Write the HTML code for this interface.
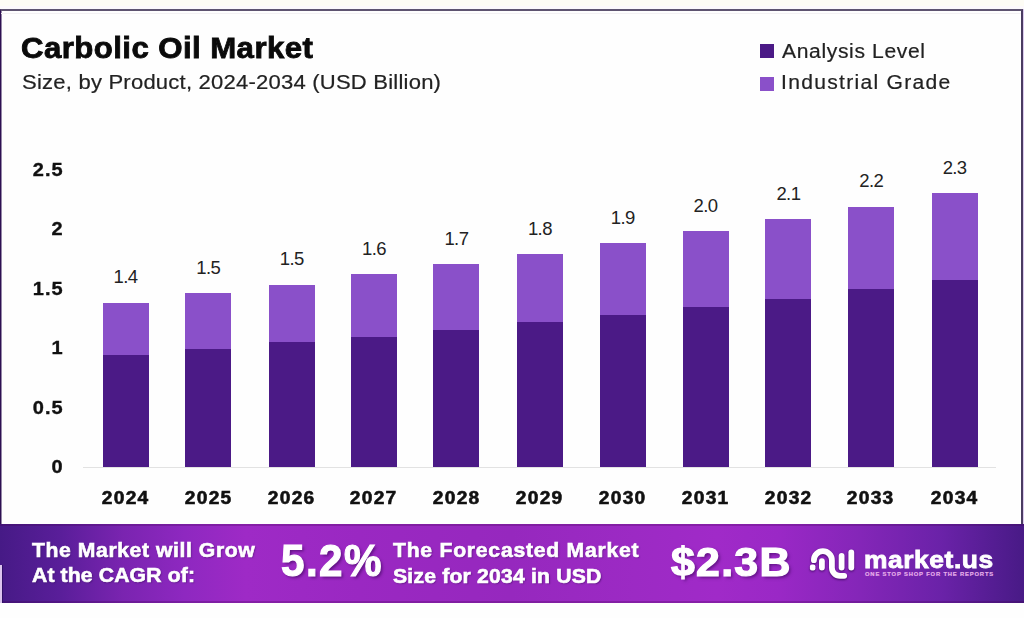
<!DOCTYPE html>
<html><head><meta charset="utf-8">
<style>
html,body{margin:0;padding:0;}
body{width:1024px;height:618px;position:relative;overflow:hidden;background:#fefefe;font-family:"Liberation Sans",sans-serif;}
#top{position:absolute;left:0;top:0;width:1024px;height:9px;background:linear-gradient(180deg,#fdfcf5 0,#fdfcf5 6px,#fcf9fc 6px,#fcf9fc 9px);}
#frame{position:absolute;left:0;top:9px;width:1023px;height:515px;border-top:2px solid #5e5470;border-left:1px solid #2e1052;border-right:2px solid #4a3c62;box-sizing:border-box;background:#fefefe;box-shadow:inset 1px 0 0 rgba(46,16,82,0.5);}
#frame:after{content:"";position:absolute;left:0;top:2px;width:100%;height:1px;background:#f3f1f3;}
#rcol{position:absolute;left:1023px;top:9px;width:1px;height:515px;background:#dccbee;}
.t{position:absolute;white-space:nowrap;transform-origin:0 0;}
#title{left:21px;top:33.6px;font-size:29px;line-height:29px;letter-spacing:0.4px;transform:scaleX(1.075);-webkit-text-stroke:0.8px #0a0a0a;font-weight:bold;color:#0a0a0a;}
#sub{left:22px;top:72px;font-size:20.5px;line-height:20.5px;letter-spacing:0.2px;transform:scaleX(1.075);-webkit-text-stroke:0.2px #222;color:#222;}
.lg{position:absolute;width:14px;height:14px;}
.lt{font-size:19.5px;line-height:19.5px;color:#222;transform:scaleX(1.08);-webkit-text-stroke:0.2px #222;}
.bl{position:absolute;background:#8a50c9;}
.bd{position:absolute;background:#4b1a86;}
.vl{position:absolute;width:80px;text-align:center;font-size:18.5px;line-height:20px;letter-spacing:-0.6px;color:#222;}
.yr{position:absolute;width:80px;text-align:center;font-size:17.6px;line-height:20px;font-weight:bold;color:#111;letter-spacing:1.2px;text-indent:1.2px;transform:scaleX(1.09);transform-origin:50% 0;-webkit-text-stroke:0.55px #111;}
.yl{position:absolute;left:0;width:63.5px;text-align:right;font-size:18.5px;line-height:20px;font-weight:bold;color:#111;letter-spacing:0.93px;transform:scaleX(1.08);transform-origin:62.5px 0;-webkit-text-stroke:0.35px #111;}
#base{position:absolute;left:83px;top:467px;width:913px;height:1px;background:#e2e2e2;}
#band{position:absolute;left:0;top:524px;width:1024px;height:79px;background:linear-gradient(90deg,#461a86 0%,#5a1e9a 6%,#7a24b0 12%,#8e28c0 18%,#9e2ac6 24%,#9a28c2 35%,#9628be 50%,#9c2ac4 62%,#a02ac8 70%,#9a28c6 76%,#8426b8 84%,#6a22a8 92%,#481a86 100%);}
#band:before{content:"";position:absolute;left:0;top:0;width:100%;height:2px;background:rgba(60,0,70,0.25);}
#band:after{content:"";position:absolute;left:0;bottom:0;width:100%;height:2px;background:rgba(60,0,70,0.25);}
.bt{color:#fff;font-weight:bold;font-size:20px;line-height:20px;transform:scaleX(1.06);-webkit-text-stroke:0.6px #fff;}
.sh{text-shadow:1px 1px 1.5px rgba(40,0,70,0.45);}
.big{text-shadow:2px 2px 3px rgba(50,0,80,0.55);}
</style></head><body>
<div id="top"></div>
<div id="frame"></div><div id="rcol"></div>
<div id="title" class="t">Carbolic Oil Market</div>
<div id="sub" class="t">Size, by Product, 2024-2034 (USD Billion)</div>
<div class="lg" style="left:760px;top:44px;background:#4b1a86"></div>
<div class="lg" style="left:760px;top:77px;background:#8a50c9"></div>
<div class="t lt" style="left:782px;top:41.5px;letter-spacing:0.6px">Analysis Level</div>
<div class="t lt" style="left:781px;top:73px;letter-spacing:1.2px">Industrial Grade</div>
<div id="base"></div>
<div class="bl" style="left:102.5px;top:302.5px;width:46.0px;height:52.5px"></div>
<div class="bd" style="left:102.5px;top:355.0px;width:46.0px;height:112.0px"></div>
<div class="vl" style="left:85.50px;top:267.00px">1.4</div>
<div class="yr" style="left:84.70px;top:488px">2024</div>
<div class="bl" style="left:185.3px;top:293.1px;width:46.0px;height:56.299999999999955px"></div>
<div class="bd" style="left:185.3px;top:349.4px;width:46.0px;height:117.60000000000002px"></div>
<div class="vl" style="left:168.30px;top:257.60px">1.5</div>
<div class="yr" style="left:167.50px;top:488px">2025</div>
<div class="bl" style="left:268.75px;top:284.7px;width:46.0px;height:57.5px"></div>
<div class="bd" style="left:268.75px;top:342.2px;width:46.0px;height:124.80000000000001px"></div>
<div class="vl" style="left:251.75px;top:249.20px">1.5</div>
<div class="yr" style="left:250.95px;top:488px">2026</div>
<div class="bl" style="left:351.0px;top:274.4px;width:46.0px;height:62.5px"></div>
<div class="bd" style="left:351.0px;top:336.9px;width:46.0px;height:130.10000000000002px"></div>
<div class="vl" style="left:334.00px;top:238.90px">1.6</div>
<div class="yr" style="left:333.20px;top:488px">2027</div>
<div class="bl" style="left:433.4px;top:264.4px;width:46.0px;height:65.60000000000002px"></div>
<div class="bd" style="left:433.4px;top:330.0px;width:46.0px;height:137.0px"></div>
<div class="vl" style="left:416.40px;top:228.90px">1.7</div>
<div class="yr" style="left:415.60px;top:488px">2028</div>
<div class="bl" style="left:516.9px;top:254.0px;width:46.0px;height:68.19999999999999px"></div>
<div class="bd" style="left:516.9px;top:322.2px;width:46.0px;height:144.8px"></div>
<div class="vl" style="left:499.90px;top:218.50px">1.8</div>
<div class="yr" style="left:499.10px;top:488px">2029</div>
<div class="bl" style="left:599.7px;top:243.1px;width:46.0px;height:71.9px"></div>
<div class="bd" style="left:599.7px;top:315.0px;width:46.0px;height:152.0px"></div>
<div class="vl" style="left:582.70px;top:207.60px">1.9</div>
<div class="yr" style="left:581.90px;top:488px">2030</div>
<div class="bl" style="left:682.5px;top:231.25px;width:46.0px;height:75.94999999999999px"></div>
<div class="bd" style="left:682.5px;top:307.2px;width:46.0px;height:159.8px"></div>
<div class="vl" style="left:665.50px;top:195.75px">2.0</div>
<div class="yr" style="left:664.70px;top:488px">2031</div>
<div class="bl" style="left:765.4px;top:219.0px;width:46.0px;height:80.0px"></div>
<div class="bd" style="left:765.4px;top:299.0px;width:46.0px;height:168.0px"></div>
<div class="vl" style="left:748.40px;top:183.50px">2.1</div>
<div class="yr" style="left:747.60px;top:488px">2032</div>
<div class="bl" style="left:848.2px;top:206.5px;width:46.0px;height:82.89999999999998px"></div>
<div class="bd" style="left:848.2px;top:289.4px;width:46.0px;height:177.60000000000002px"></div>
<div class="vl" style="left:831.20px;top:171.00px">2.2</div>
<div class="yr" style="left:830.40px;top:488px">2033</div>
<div class="bl" style="left:931.6px;top:193.0px;width:46.0px;height:87.30000000000001px"></div>
<div class="bd" style="left:931.6px;top:280.3px;width:46.0px;height:186.7px"></div>
<div class="vl" style="left:914.60px;top:157.50px">2.3</div>
<div class="yr" style="left:913.80px;top:488px">2034</div>
<div class="yl" style="top:160px">2.5</div>
<div class="yl" style="top:219.4px">2</div>
<div class="yl" style="top:278.8px">1.5</div>
<div class="yl" style="top:338.2px">1</div>
<div class="yl" style="top:397.6px">0.5</div>
<div class="yl" style="top:457px">0</div>
<div id="band"></div>
<div style="position:absolute;left:0;top:565px;width:1.5px;height:38px;background:#dcc4ee"></div><div style="position:absolute;left:1.5px;top:565px;width:1.5px;height:38px;background:#2e1066"></div>
<div class="t bt sh" style="left:32px;top:540px;letter-spacing:0.53px">The Market will Grow</div>
<div class="t bt sh" style="left:32px;top:565px;letter-spacing:0.11px">At the CAGR of:</div>
<div class="t bt big" style="left:281px;top:539.5px;font-size:43.5px;line-height:43px;letter-spacing:1.5px;transform:scaleX(0.97);-webkit-text-stroke:1.1px #fff">5.2%</div>
<div class="t bt sh" style="left:392.5px;top:539.5px;letter-spacing:0.69px">The Forecasted Market</div>
<div class="t bt sh" style="left:392.5px;top:565.5px;letter-spacing:0.17px">Size for 2034 in USD</div>
<div class="t bt big" style="left:670.5px;top:541.5px;font-size:40px;line-height:40px;letter-spacing:1.2px;transform:scaleX(1.07);-webkit-text-stroke:1.2px #fff">$2.3B</div>
<svg style="position:absolute;left:0;top:0;filter:drop-shadow(0.8px 1.2px 0.8px rgba(45,0,75,0.75))" width="1024" height="618" viewBox="0 0 1024 618">
<g fill="none" stroke="#fff" stroke-width="5.8" stroke-linecap="round">
<path d="M813.9 560.2 A9 9 0 0 1 831.9 560.2 L831.9 567.8 A8 8 0 0 0 839.9 575.8 L844.2 575.8"/>
<path d="M821.9 561.2 L821.9 567.6"/>
<path d="M841.6 556 L841.6 567.6"/>
<path d="M851.3 552.4 L851.3 567.6"/>
</g>
<rect x="809.9" y="564.4" width="5.5" height="6" rx="2" fill="#fff"/>
</svg>
<div class="t bt" style="left:864px;top:548px;font-size:24px;line-height:24px;letter-spacing:0.5px;transform:scaleX(1.1);-webkit-text-stroke:0.8px #fff">market.us</div>
<div class="t bt" style="left:865px;top:570.5px;font-size:5.8px;line-height:6px;color:#e6aeea;letter-spacing:0.85px;transform:none;-webkit-text-stroke:0.2px #e6aeea">ONE STOP SHOP FOR THE REPORTS</div>
</body></html>
